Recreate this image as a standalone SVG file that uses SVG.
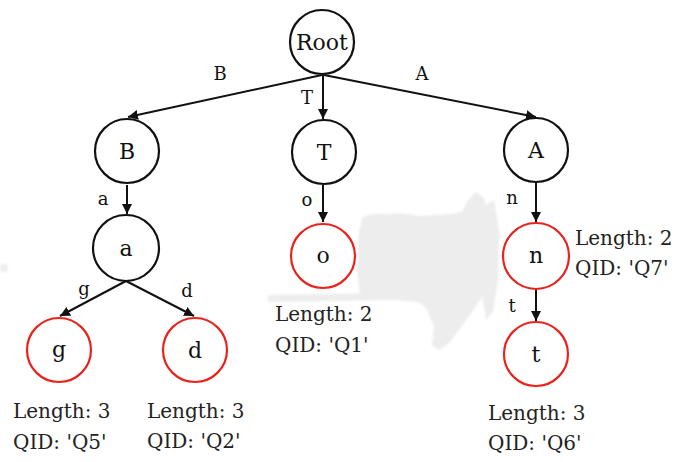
<svg xmlns="http://www.w3.org/2000/svg" width="675" height="462" viewBox="0 0 675 462">
  <style>
    .node circle { fill: #fff; stroke-width: 2.2; }
    .inner circle { stroke: #111; }
    .leaf circle { stroke: #e8231d; }
    .node text.label { font-family: "DejaVu Serif", "Liberation Serif", serif; font-size: 22px; fill: #111; text-anchor: middle; }
    .edge { stroke: #111; stroke-width: 2; fill: none; marker-end: url(#arrow); }
    .elabel { font-family: "DejaVu Serif", "Liberation Serif", serif; font-size: 18px; fill: #111; text-anchor: middle; }
    .node text.info { font-family: "DejaVu Serif", "Liberation Serif", serif; font-size: 20px; fill: #222; text-anchor: start; }
    .smudge { fill: #ededed; stroke: none; }
  </style>
  <defs>
    <marker id="arrow" viewBox="0 0 10 10" refX="10" refY="5" markerWidth="5" markerHeight="5" orient="auto" markerUnits="strokeWidth">
      <path d="M0,0 L10,5 L0,10 z" fill="#111"/>
    </marker>
    <filter id="soft" x="-10%" y="-10%" width="120%" height="120%">
      <feGaussianBlur stdDeviation="1.2"/>
    </filter>
  </defs>

  <rect width="675" height="462" fill="#fff"/>

  <!-- light gray background smear -->
  <g id="smear" filter="url(#soft)">
    <path class="smudge" d="M362,218 Q372,212 385,214 L400,213 L420,216 L450,214 L462,212 L468,200 L476,192 L484,198 L488,220 L489,260 L486,292 L476,306 L462,326 L450,342 L440,350 L432,346 L434,326 L426,308 L418,302 L395,300 L372,299 L360,294 L357,270 L358,240 Z"/>
    <path class="smudge" d="M484,206 L494,200 L499,230 L498,280 L493,312 L486,320 L483,300 Z"/>
    <path class="smudge" d="M268,295 L386,293 L387,300 L268,302 Z"/>
    <circle class="smudge" cx="4" cy="268" r="4"/>
  </g>

  <!-- connectors -->
  <g id="edges">
    <line class="edge" x1="322" y1="75" x2="128" y2="117"/>
    <line class="edge" x1="323" y1="75" x2="323" y2="119"/>
    <line class="edge" x1="324" y1="75" x2="536" y2="117"/>
    <line class="edge" x1="127" y1="185" x2="127" y2="214"/>
    <line class="edge" x1="126" y1="281" x2="60" y2="316"/>
    <line class="edge" x1="126" y1="281" x2="194" y2="316"/>
    <line class="edge" x1="323" y1="185" x2="323" y2="222"/>
    <line class="edge" x1="536" y1="183" x2="536" y2="222"/>
    <line class="edge" x1="536" y1="289" x2="536" y2="321"/>
    <text class="elabel" x="220" y="80">B</text>
    <text class="elabel" x="307" y="104">T</text>
    <text class="elabel" x="422" y="80">A</text>
    <text class="elabel" x="103" y="205">a</text>
    <text class="elabel" x="307" y="206">o</text>
    <text class="elabel" x="512" y="204">n</text>
    <text class="elabel" x="84" y="295">g</text>
    <text class="elabel" x="187" y="297">d</text>
    <text class="elabel" x="512" y="312">t</text>
  </g>

  <g id="node-root" class="node inner">
    <circle cx="322" cy="42" r="32"/>
    <text class="label" x="322" y="50">Root</text>
  </g>
  <g id="node-B" class="node inner">
    <circle cx="127" cy="151" r="32"/>
    <text class="label" x="127" y="159">B</text>
  </g>
  <g id="node-T" class="node inner">
    <circle cx="324" cy="152" r="32"/>
    <text class="label" x="324" y="160">T</text>
  </g>
  <g id="node-A" class="node inner">
    <circle cx="536" cy="150" r="32"/>
    <text class="label" x="536" y="158">A</text>
  </g>
  <g id="node-a" class="node inner">
    <circle cx="126" cy="248" r="33"/>
    <text class="label" x="126" y="256">a</text>
  </g>
  <g id="node-g" class="node leaf">
    <circle cx="59" cy="350" r="32"/>
    <text class="label" x="59" y="357">g</text>
    <text class="info" x="13" y="418">Length: 3</text>
    <text class="info" x="13" y="449">QID: 'Q5'</text>
  </g>
  <g id="node-d" class="node leaf">
    <circle cx="195" cy="350" r="32"/>
    <text class="label" x="195" y="358">d</text>
    <text class="info" x="147" y="418">Length: 3</text>
    <text class="info" x="147" y="448">QID: 'Q2'</text>
  </g>
  <g id="node-o" class="node leaf">
    <circle cx="323" cy="256" r="32"/>
    <text class="label" x="323" y="263">o</text>
    <text class="info" x="275" y="321">Length: 2</text>
    <text class="info" x="275" y="352">QID: 'Q1'</text>
  </g>
  <g id="node-n" class="node leaf">
    <circle cx="536" cy="256" r="33"/>
    <text class="label" x="536" y="263">n</text>
    <text class="info" x="575" y="245">Length: 2</text>
    <text class="info" x="575" y="275">QID: 'Q7'</text>
  </g>
  <g id="node-t" class="node leaf">
    <circle cx="536" cy="354" r="32"/>
    <text class="label" x="536" y="362">t</text>
    <text class="info" x="488" y="420">Length: 3</text>
    <text class="info" x="488" y="450">QID: 'Q6'</text>
  </g>
</svg>
